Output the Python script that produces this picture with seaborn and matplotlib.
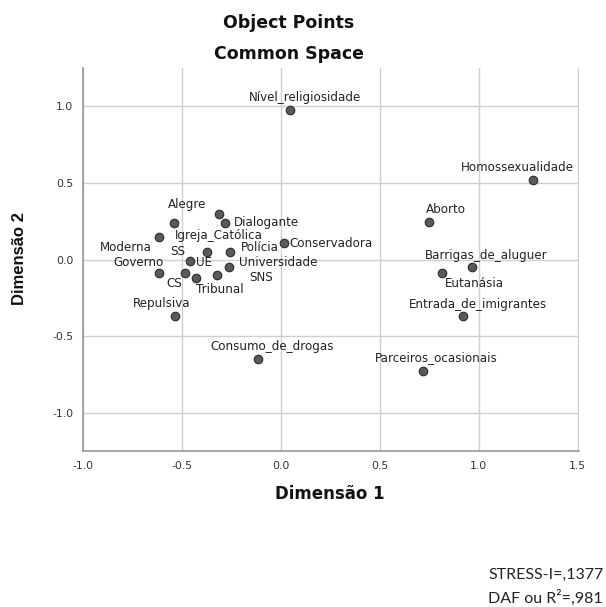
import pandas as pd
import seaborn as sns
import matplotlib.pyplot as plt

# object coordinates
labels = ["Alegre", "Igreja_Católica", "Dialogante", "Moderna", "Conservadora",
          "SS", "Polícia", "UE", "Universidade", "Governo", "CS", "SNS",
          "Tribunal", "Repulsiva", "Consumo_de_drogas", "Nível_religiosidade",
          "Homossexualidade", "Aborto", "Barrigas_de_aluguer", "Eutanásia",
          "Entrada_de_imigrantes", "Parceiros_ocasionais"]
dim1 = [-0.315, -0.538, -0.284, -0.614, 0.015, -0.376, -0.259, -0.457, -0.264,
        -0.614, -0.487, -0.325, -0.431, -0.533, -0.117, 0.046, 1.274, 0.746,
        0.964, 0.812, 0.919, 0.716]
dim2 = [0.30, 0.235, 0.235, 0.15, 0.11, 0.046, 0.052, -0.013, -0.046, -0.085,
        -0.085, -0.098, -0.118, -0.366, -0.647, 0.974, 0.516, 0.248, -0.046,
        -0.085, -0.372, -0.725]

x_ticks = [-1.0, -0.5, 0.0, 0.5, 1.0, 1.5]
y_ticks = [-1.0, -0.5, 0.0, 0.5, 1.0]

# label placement (pixels from point)
label_offsets = {
    "Alegre": (-31, 9), "Igreja_Católica": (44, -12), "Dialogante": (42, 1),
    "Moderna": (-34, -11), "Conservadora": (47, -1), "SS": (-29, 1),
    "Polícia": (30, 4), "UE": (14, -1), "Universidade": (50, 4),
    "Governo": (-21, 10), "CS": (-10, -11), "SNS": (45, -3),
    "Tribunal": (24, -12), "Repulsiva": (-14, 12), "Consumo_de_drogas": (14, 12),
    "Nível_religiosidade": (15, 13), "Homossexualidade": (-16, 13),
    "Aborto": (17, 12), "Barrigas_de_aluguer": (14, 11), "Eutanásia": (33, -11),
    "Entrada_de_imigrantes": (15, 12), "Parceiros_ocasionais": (14, 13),
}

df = pd.DataFrame({"label": labels, "Dimensão 1": dim1, "Dimensão 2": dim2})

sns.set_style("white")
plt.rcParams['font.family'] = ['DejaVu Sans']

fig = plt.figure(figsize=(6.06, 6.07), dpi=100)
ax = fig.add_axes([83 / 606, 1 - 451 / 607, 496 / 606, 383 / 607])

sns.scatterplot(data=df, x="Dimensão 1", y="Dimensão 2", ax=ax, s=38,
                color="#5a5a5a", edgecolor="#2e2e2e", linewidth=0.8, zorder=3)

for lab, xv, yv in zip(labels, dim1, dim2):
    dx, dy = label_offsets[lab]
    ax.annotate(lab, (xv, yv), xytext=(dx, dy), textcoords="offset pixels",
                ha="center", va="center", fontsize=8.6, color="#222222", zorder=4)

ax.set_xlim(-1.0, 1.506)
ax.set_ylim(-1.25, 1.25)
ax.set_xticks(x_ticks)
ax.set_yticks(y_ticks)
ax.set_xticklabels([f"{t:.1f}" for t in x_ticks])
ax.set_yticklabels([f"{t:.1f}" for t in y_ticks])
ax.tick_params(axis="both", labelsize=7.8, labelcolor="#333333", length=0, pad=7)
ax.grid(True, color="#cfcfcf", linewidth=1.0)
ax.set_axisbelow(True)

for side in ["top", "right"]:
    ax.spines[side].set_visible(False)
for side in ["left", "bottom"]:
    ax.spines[side].set_color("#9a9a9a")
    ax.spines[side].set_linewidth(1.2)

ax.set_xlabel("")
ax.set_ylabel("")
fig.text(330 / 606, 1 - 494 / 607, "Dimensão 1", ha="center", va="center",
         fontsize=12, fontweight="bold", color="#111111")
fig.text(20 / 606, 1 - 259 / 607, "Dimensão 2", ha="center", va="center",
         rotation=90, fontsize=12, fontweight="bold", color="#111111",
         family=["Liberation Sans", "DejaVu Sans"])

fig.text(289 / 606, 1 - 23 / 607, "Object Points", ha="center", va="center",
         fontsize=12.5, fontweight="bold", color="#111111")
fig.text(289 / 606, 1 - 54 / 607, "Common Space", ha="center", va="center",
         fontsize=12.5, fontweight="bold", color="#111111")

fig.text(488 / 606, 1 - 575 / 607, "STRESS-I=,1377", ha="left", va="center",
         fontsize=11.5, color="#222222", family=["Lato", "DejaVu Sans"])
fig.text(488 / 606, 1 - 598 / 607, "DAF ou R²=,981", ha="left", va="center",
         fontsize=11.5, color="#222222", family=["Lato", "DejaVu Sans"])

fig.savefig("out.png", dpi=100)
